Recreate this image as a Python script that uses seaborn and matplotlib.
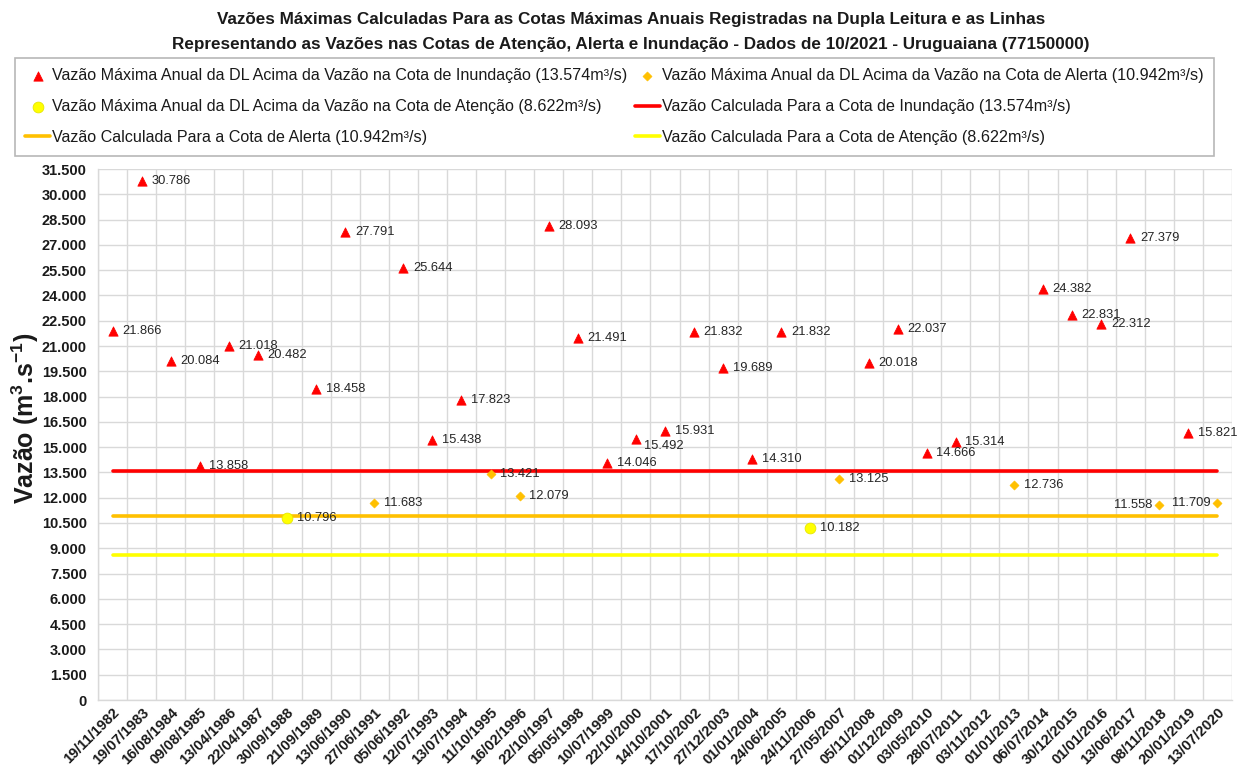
import numpy as np
import pandas as pd
import matplotlib
matplotlib.use("Agg")
import matplotlib.pyplot as plt
import seaborn as sns

# ---------------- data ----------------
datas = ["19/11/1982", "19/07/1983", "16/08/1984", "09/08/1985", "13/04/1986", "22/04/1987",
         "30/09/1988", "21/09/1989", "13/06/1990", "27/06/1991", "05/06/1992", "12/07/1993",
         "13/07/1994", "11/10/1995", "16/02/1996", "22/10/1997", "05/05/1998", "10/07/1999",
         "22/10/2000", "14/10/2001", "17/10/2002", "27/12/2003", "01/01/2004", "24/06/2005",
         "24/11/2006", "27/05/2007", "05/11/2008", "01/12/2009", "03/05/2010", "28/07/2011",
         "03/11/2012", "01/01/2013", "06/07/2014", "30/12/2015", "01/01/2016", "13/06/2017",
         "08/11/2018", "20/01/2019", "13/07/2020"]
vazao = [21866, 30786, 20084, 13858, 21018, 20482, 10796, 18458, 27791, 11683, 25644, 15438,
         17823, 13421, 12079, 28093, 21491, 14046, 15492, 15931, 21832, 19689, 14310, 21832,
         10182, 13125, 20018, 22037, 14666, 15314, np.nan, 12736, 24382, 22831, 22312, 27379,
         11558, 15821, 11709]
cota_inundacao = 13574
cota_alerta = 10942
cota_atencao = 8622
y_ticks = list(range(0, 31501, 1500))

# ---------------- style ----------------
sns.set_theme(style="white")
plt.rcParams["font.family"] = ["Liberation Sans", "DejaVu Sans"]
plt.rcParams["mathtext.fontset"] = "custom"
plt.rcParams["mathtext.rm"] = "Liberation Sans"
plt.rcParams["mathtext.bf"] = "Liberation Sans:bold"
plt.rcParams["mathtext.it"] = "Liberation Sans:italic"


def fmt(v):
    return f"{int(v):,}".replace(",", ".")


df = pd.DataFrame({"data": datas, "vazao": vazao})
df["x"] = np.arange(len(df))


def classe(v):
    if np.isnan(v):
        return None
    if v >= cota_inundacao:
        return "inund"
    if v >= cota_alerta:
        return "alerta"
    if v >= cota_atencao:
        return "atencao"
    return None


df["classe"] = df["vazao"].apply(classe)

fig = plt.figure(figsize=(12.37, 7.76), dpi=100)
ax = fig.add_axes([98 / 1237, 1 - 700 / 776, (1232 - 98) / 1237, (700 - 169) / 776])

lbl_tri = f"Vazão Máxima Anual da DL Acima da Vazão na Cota de Inundação ({fmt(cota_inundacao)}m³/s)"
lbl_dia = f"Vazão Máxima Anual da DL Acima da Vazão na Cota de Alerta ({fmt(cota_alerta)}m³/s)"
lbl_cir = f"Vazão Máxima Anual da DL Acima da Vazão na Cota de Atenção ({fmt(cota_atencao)}m³/s)"
lbl_lr = f"Vazão Calculada Para a Cota de Inundação ({fmt(cota_inundacao)}m³/s)"
lbl_lo = f"Vazão Calculada Para a Cota de Alerta ({fmt(cota_alerta)}m³/s)"
lbl_ly = f"Vazão Calculada Para a Cota de Atenção ({fmt(cota_atencao)}m³/s)"

RED = "#FF0000"
ORANGE = "#FFC000"
YELLOW = "#FFFF00"

n = len(df)
sns.lineplot(x=df["x"], y=[cota_inundacao] * n, color=RED, lw=2.6, ax=ax, label=lbl_lr, zorder=3)
sns.lineplot(x=df["x"], y=[cota_alerta] * n, color=ORANGE, lw=2.6, ax=ax, label=lbl_lo, zorder=3)
sns.lineplot(x=df["x"], y=[cota_atencao] * n, color=YELLOW, lw=2.6, ax=ax, label=lbl_ly, zorder=3)

sns.scatterplot(data=df[df["classe"] == "inund"], x="x", y="vazao", marker="^", color=RED,
                edgecolor=RED, s=45, ax=ax, label=lbl_tri, zorder=5)
sns.scatterplot(data=df[df["classe"] == "alerta"], x="x", y="vazao", marker="D", color=ORANGE,
                edgecolor=ORANGE, s=22, ax=ax, label=lbl_dia, zorder=5)
sns.scatterplot(data=df[df["classe"] == "atencao"], x="x", y="vazao", marker="o", color=YELLOW,
                edgecolor="#E6E600", linewidth=0.6, s=60, ax=ax, label=lbl_cir, zorder=5)

# data labels
left_labels = {36, 38}
below_labels = {18}
for i, row in df.iterrows():
    v = row["vazao"]
    if np.isnan(v):
        continue
    if i in left_labels:
        off, ha = (-5, 0), "right"
    elif i in below_labels:
        off, ha = (6, -5), "left"
    else:
        off, ha = (7, 0), "left"
    ax.annotate(fmt(v), (row["x"], v), xytext=off, textcoords="offset points",
                ha=ha, va="center", fontsize=9.3, color="#262626", zorder=6)

# axes
ax.set_xlim(-0.5, n - 0.5)
ax.set_ylim(0, 31500)
ax.set_yticks(y_ticks)
ax.set_yticklabels([fmt(t) for t in y_ticks], fontsize=10.5, fontweight="bold", color="#1a1a1a")
ax.set_xticks(df["x"])
ax.set_xticklabels(df["data"], rotation=45, ha="right", va="top", rotation_mode="anchor",
                   fontsize=10.5, fontweight="bold", color="#1a1a1a")
ax.set_xticks(np.arange(-0.5, n, 1), minor=True)
ax.tick_params(axis="x", which="major", length=0, pad=4)
ax.tick_params(axis="x", which="minor", length=4, color="#D9D9D9", width=1)
ax.tick_params(axis="y", which="major", length=0, pad=8)
ax.grid(False)
ax.yaxis.grid(True, color="#D9D9D9", lw=1)
ax.xaxis.grid(True, which="minor", color="#D9D9D9", lw=1)
ax.set_axisbelow(True)
for s in ["top", "right"]:
    ax.spines[s].set_visible(False)
for s in ["left", "bottom"]:
    ax.spines[s].set_color("#D9D9D9")
    ax.spines[s].set_linewidth(1)
ax.set_xlabel("")
ax.set_ylabel(r"Vazão (m$^\mathbf{3}$.s$^\mathbf{-1}$)", fontsize=18, fontweight="bold",
              color="#1a1a1a")
ax.yaxis.set_label_coords(-0.05, 0.53)

# legend
handles, labels = ax.get_legend_handles_labels()
hmap = dict(zip(labels, handles))
order = [lbl_tri, lbl_cir, lbl_lo, lbl_dia, lbl_lr, lbl_ly]
ax.get_legend().remove()
leg = fig.legend([hmap[l] for l in order], order, ncol=2,
                 bbox_to_anchor=(15 / 1237, 1 - 58 / 776),
                 loc="upper left", fontsize=11.6, frameon=True, fancybox=False,
                 edgecolor="#A6A6A6", handlelength=1.5, handletextpad=0.15,
                 labelspacing=0.98, borderaxespad=0, borderpad=0.65, columnspacing=0.5)
leg.get_frame().set_linewidth(1.2)
for t in leg.get_texts():
    t.set_color("#1a1a1a")

fig.text(631 / 1237, 1 - 12 / 776,
         "Vazões Máximas Calculadas Para as Cotas Máximas Anuais Registradas na Dupla Leitura e as Linhas\n"
         "Representando as Vazões nas Cotas de Atenção, Alerta e Inundação - Dados de 10/2021 - Uruguaiana (77150000)",
         ha="center", va="top", fontsize=12.3, fontweight="bold", color="#1a1a1a", linespacing=1.8)

fig.savefig("out.png", dpi=100)
